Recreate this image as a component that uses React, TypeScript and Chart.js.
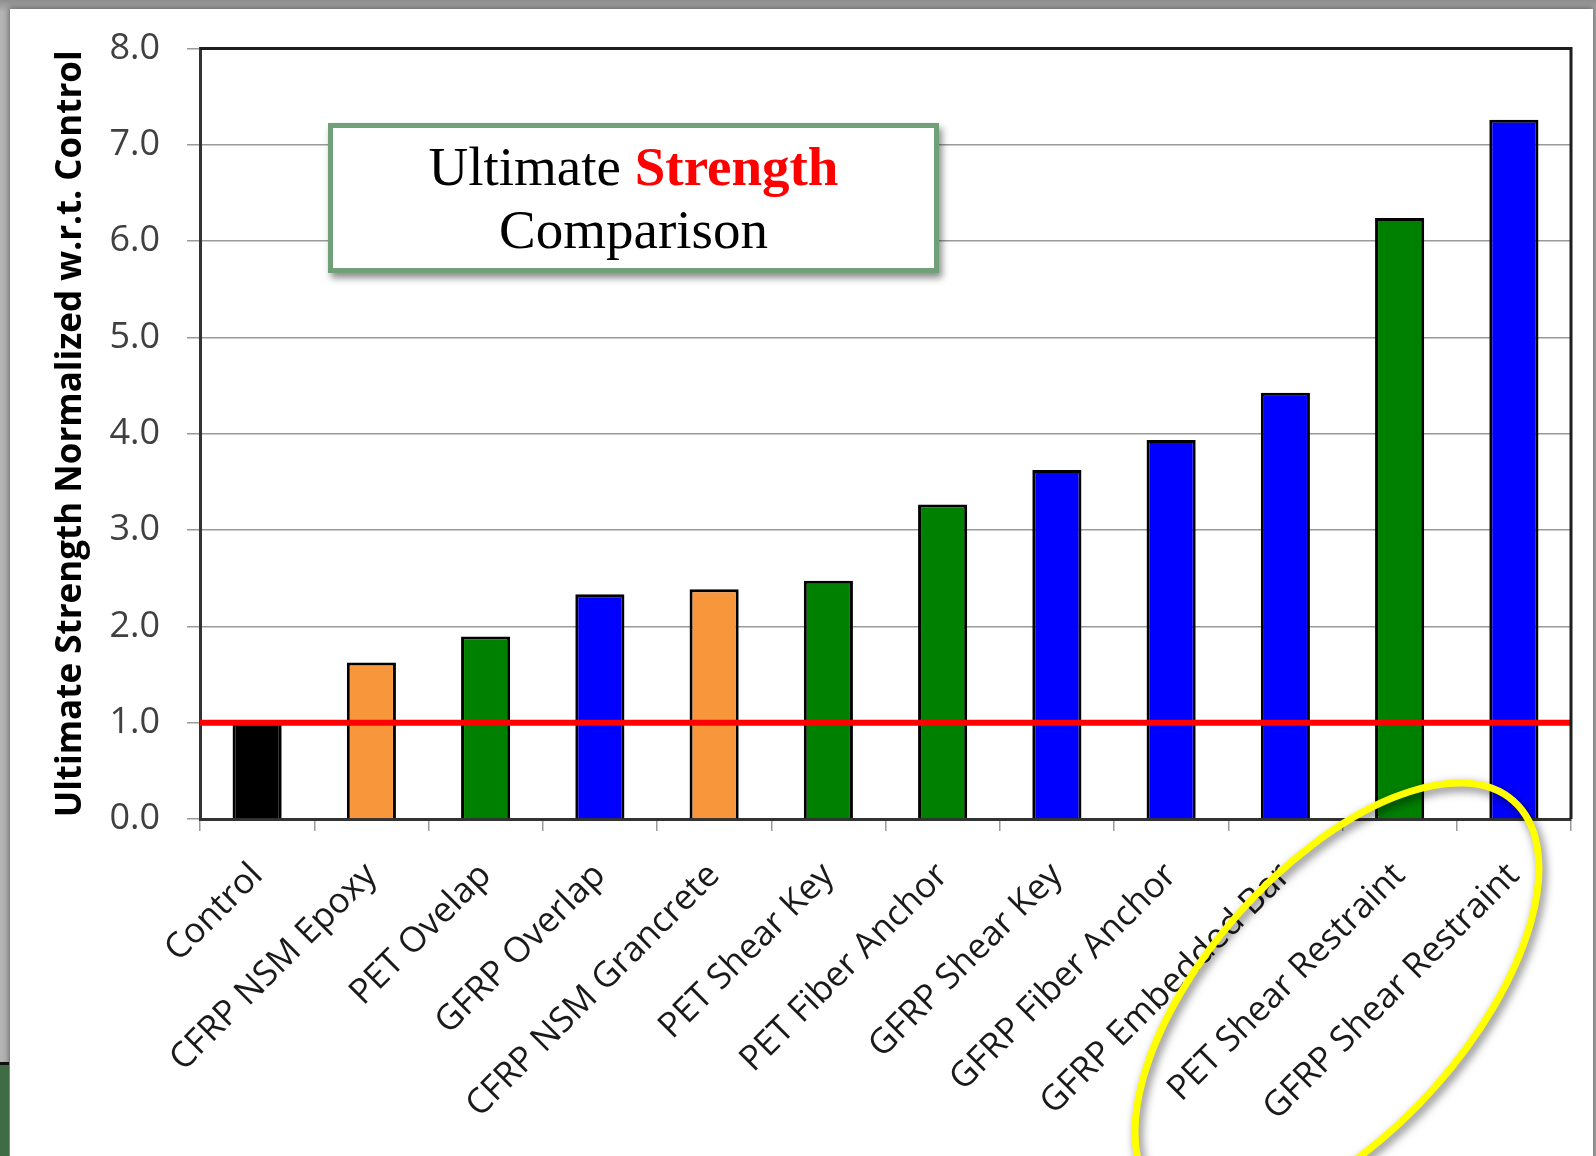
import React, { useEffect, useRef } from "react";
import { Chart, registerables } from "chart.js";

Chart.register(...registerables);

// ---------- data ----------
const categories = [
  "Control",
  "CFRP NSM Epoxy",
  "PET Ovelap",
  "GFRP Overlap",
  "CFRP NSM Grancrete",
  "PET Shear Key",
  "PET Fiber Anchor",
  "GFRP Shear Key",
  "GFRP Fiber Anchor",
  "GFRP Embedded Bar",
  "PET Shear Restraint",
  "GFRP Shear Restraint",
];
const strengthRatio = [1.0, 1.625, 1.895, 2.335, 2.385, 2.475, 3.265, 3.625, 3.935, 4.425, 6.24, 7.26];
const materialGroup = ["control", "cfrp", "pet", "gfrp", "cfrp", "pet", "pet", "gfrp", "gfrp", "gfrp", "pet", "gfrp"];
const groupColors: Record<string, string> = {
  control: "#000000",
  cfrp: "#f7963b",
  pet: "#008000",
  gfrp: "#0000ff",
};
const yMin = 0;
const yMax = 8;
const yStep = 1;
const controlLevel = 1.0;
const yAxisTitle = "Ultimate Strength Normalized w.r.t. Control";
const boxWord1 = "Ultimate ";
const boxWord2 = "Strength";
const boxLine2 = "Comparison";

// ---------- plugins ----------
const controlLinePlugin = {
  id: "controlLine",
  afterDatasetsDraw(chart: any) {
    const { ctx, chartArea } = chart;
    const y = chart.scales.y.getPixelForValue(controlLevel);
    ctx.save();
    ctx.strokeStyle = "#ff0000";
    ctx.lineWidth = 6;
    ctx.beginPath();
    ctx.moveTo(chartArea.left, y);
    ctx.lineTo(chartArea.right, y);
    ctx.stroke();
    ctx.restore();
  },
};

const frameEllipsePlugin = {
  id: "frameEllipse",
  afterDraw(chart: any) {
    const { ctx, chartArea } = chart;
    ctx.save();
    ctx.strokeStyle = "#1e1e1e";
    ctx.lineWidth = 3;
    ctx.beginPath();
    ctx.moveTo(chartArea.left, chartArea.top);
    ctx.lineTo(chartArea.right, chartArea.top);
    ctx.lineTo(chartArea.right, chartArea.bottom);
    ctx.stroke();
    ctx.restore();

    // highlight ellipse
    const cx = chartArea.right - 234;
    const cy = chartArea.bottom + 181;
    ctx.save();
    ctx.shadowColor = "rgba(0,0,0,0.55)";
    ctx.shadowBlur = 10;
    ctx.shadowOffsetX = 3;
    ctx.shadowOffsetY = 4;
    ctx.strokeStyle = "#ffff00";
    ctx.lineWidth = 7;
    ctx.beginPath();
    ctx.ellipse(cx, cy, 266, 131, (-48.4 * Math.PI) / 180, 0, Math.PI * 2);
    ctx.stroke();
    ctx.restore();
  },
};

export default function App() {
  const ref = useRef<HTMLCanvasElement>(null);

  useEffect(() => {
    document.body.style.margin = "0";
    const canvas = ref.current;
    if (!canvas) return;
    const chart = new Chart(canvas, {
      type: "bar",
      data: {
        labels: categories,
        datasets: [
          {
            data: strengthRatio,
            backgroundColor: materialGroup.map((g) => groupColors[g]),
            borderColor: "#000000",
            borderWidth: 3,
            barPercentage: 0.43,
            categoryPercentage: 1,
          },
        ],
      },
      options: {
        animation: false,
        responsive: false,
        devicePixelRatio: 1,
        layout: { padding: { left: 50, top: 45, right: 25, bottom: 0 } },
        plugins: { legend: { display: false }, tooltip: { enabled: false } },
        scales: {
          x: {
            grid: {
              drawOnChartArea: false,
              drawTicks: true,
              tickLength: 12,
              color: "#9a9a9a",
              lineWidth: 1.5,
              offset: true,
            },
            border: { display: true, color: "#333333", width: 3 },
            ticks: {
              autoSkip: false,
              maxRotation: 45,
              minRotation: 45,
              padding: 24,
              color: "#1a1a1a",
              font: { family: "Open Sans", size: 35 },
            },
            afterFit: (s: any) => {
              s.height = 337;
              s.paddingLeft = 0;
              s.paddingRight = 0;
            },
          },
          y: {
            min: yMin,
            max: yMax,
            ticks: {
              stepSize: yStep,
              padding: 27,
              color: "#404040",
              font: { family: "Open Sans", size: 36 },
              callback: (v: any) => Number(v).toFixed(1),
            },
            grid: { color: "#9a9a9a", lineWidth: 1.5, tickLength: 13 },
            border: { display: true, color: "#333333", width: 3 },
            title: {
              display: true,
              text: yAxisTitle,
              color: "#000000",
              padding: { top: 0, bottom: 0 },
              font: { family: "Open Sans", size: 35, weight: "bold" },
            },
            afterFit: (s: any) => {
              s.width = 150;
            },
          },
        },
      },
      plugins: [controlLinePlugin, frameEllipsePlugin],
    } as any);
    return () => chart.destroy();
  }, []);

  return (
    <div
      style={{
        position: "relative",
        width: 1596,
        height: 1156,
        overflow: "hidden",
        background: "linear-gradient(#8e8e8e, #b4b4b4 12px)",
      }}
    >
      <div
        style={{
          position: "absolute",
          left: 10,
          top: 9,
          right: 3,
          bottom: -10,
          background: "#ffffff",
          boxShadow: "0 0 6px 1px rgba(0,0,0,0.45)",
        }}
      />
      <div
        style={{
          position: "absolute",
          left: 0,
          top: 1062,
          width: 9,
          height: 94,
          background: "#3f6b45",
          borderTop: "3px solid #111",
        }}
      />
      <canvas ref={ref} width={1596} height={1156} style={{ position: "absolute", left: 0, top: 0 }} />
      <div
        style={{
          position: "absolute",
          left: 328,
          top: 123,
          width: 601,
          height: 140,
          border: "5px solid #6fa077",
          background: "#ffffff",
          boxShadow: "3px 5px 7px rgba(0,0,0,0.45)",
          textAlign: "center",
          fontFamily: "'Liberation Serif', serif",
          fontSize: 55,
          lineHeight: "63px",
          paddingTop: 0,
          boxSizing: "content-box",
          color: "#000",
        }}
      >
        <div style={{ marginTop: 7 }}>
          {boxWord1}
          <span style={{ color: "#ff0000", fontWeight: "bold" }}>{boxWord2}</span>
        </div>
        <div>{boxLine2}</div>
      </div>
    </div>
  );
}
